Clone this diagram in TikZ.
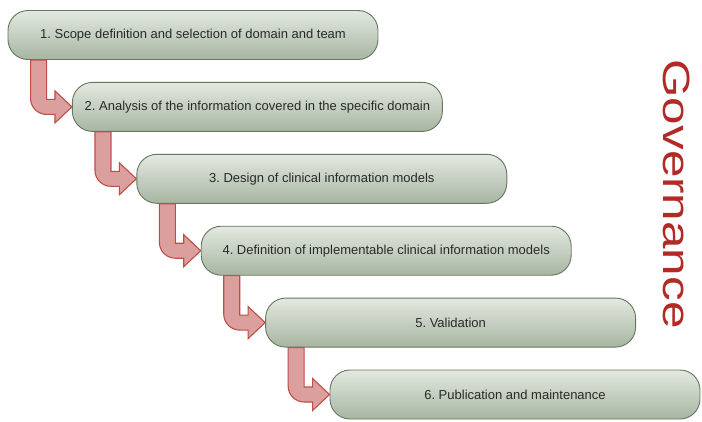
\documentclass[tikz,border=0pt]{standalone}
\usepackage{fontspec}
\setmainfont{Liberation Sans}
\usetikzlibrary{calc}
\frenchspacing
\definecolor{boxtop}{HTML}{E3E9E0}
\definecolor{boxbot}{HTML}{A7B5A2}
\definecolor{boxline}{HTML}{66765F}
\definecolor{arrowfill}{HTML}{DBA09E}
\definecolor{arrowline}{HTML}{C24C48}
\definecolor{govred}{HTML}{B22A26}
\definecolor{steptext}{HTML}{2A2A2A}
\pgfdeclarelayer{background}
\pgfsetlayers{background,main}
\tikzset{
  stepbox/.style={draw=boxline, line width=0.9pt, rounded corners=20pt,
    top color=boxtop, bottom color=boxbot, minimum width=370pt,
    minimum height=49pt, inner sep=0pt,
    font=\fontsize{13}{15}\selectfont, text=steptext},
  flowarrow/.style={fill=arrowfill, draw=arrowline, line width=1.1pt, line join=miter},
}
% bent block arrow from the bottom-left of one step to the left end of the next
\newcommand{\bentarrow}[2]{%
  \path[flowarrow] let \p1=(#1.south west), \p2=(#2.west) in
    (\x1+23pt,\y1) -- (\x1+23pt,\y2+8.5pt)
    arc[start angle=180,end angle=270,radius=16pt]
    -- (\x2-17pt,\y2-7.5pt) -- (\x2-17pt,\y2-16pt) -- (\x2,\y2)
    -- (\x2-17pt,\y2+16pt) -- (\x2-17pt,\y2+7.5pt)
    -- (\x1+39pt,\y2+7.5pt) -- (\x1+39pt,\y1) -- cycle;}
\begin{document}
\begin{tikzpicture}[x=1pt,y=-1pt]
  \useasboundingbox (0,0) rectangle (702,421);

  \node[stepbox] (s1) at (193,35)    {1. Scope definition and selection of domain and team};
  \node[stepbox] (s2) at (257.4,106.9) {2. Analysis of the information covered in the specific domain};
  \node[stepbox] (s3) at (321.8,178.8) {3. Design of clinical information models};
  \node[stepbox] (s4) at (386.2,250.7) {4. Definition of implementable clinical information models};
  \node[stepbox] (s5) at (450.6,322.6) {5. Validation};
  \node[stepbox] (s6) at (515,394.5) {6. Publication and maintenance};

  \begin{pgfonlayer}{background}
    \fill[white] (0,0) rectangle (702,421);
    \bentarrow{s1}{s2}
    \bentarrow{s2}{s3}
    \bentarrow{s3}{s4}
    \bentarrow{s4}{s5}
    \bentarrow{s5}{s6}
  \end{pgfonlayer}

  \node[rotate=-90, xscale=1.3, text=govred, inner sep=0pt,
        font=\fontsize{38}{38}\selectfont] (gov) at (677,194) {Governance};
\end{tikzpicture}
\end{document}
